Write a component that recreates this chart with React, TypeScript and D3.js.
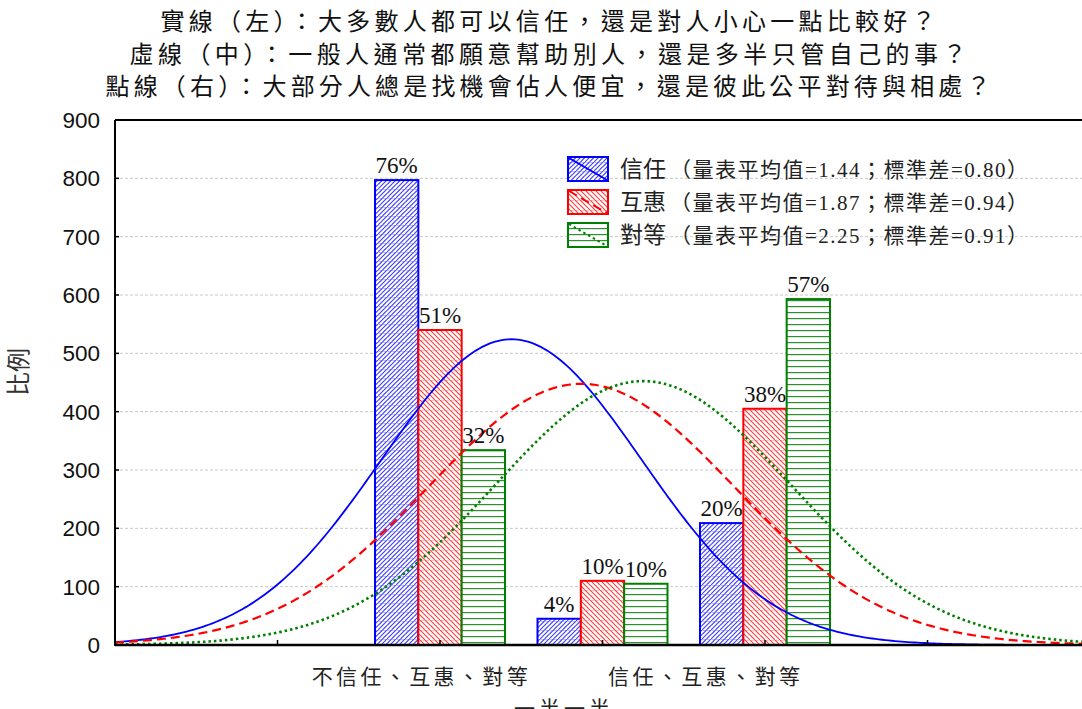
import * as d3 from 'd3';

const W = 1082;
const H = 709;

// categories on the x axis (1..3) and their labels
const categories = [1, 2, 3];
const categoryLabels = ['不信任、互惠、對等', '一半一半', '信任、互惠、對等'];

const seriesNames = ['信任', '互惠', '對等'];
const trustCounts = [797, 45, 209];
const reciprocityCounts = [540, 110, 405];
const fairnessCounts = [334, 105, 593];
const trustPct = ['76%', '4%', '20%'];
const reciprocityPct = ['51%', '10%', '38%'];
const fairnessPct = ['32%', '10%', '57%'];
const means = [1.44, 1.87, 2.25];
const sds = [0.8, 0.94, 0.91];

const yTicks = [0, 100, 200, 300, 400, 500, 600, 700, 800, 900];
const titleLines = [
  '實線（左）：大多數人都可以信任，還是對人小心一點比較好？',
  '虛線（中）：一般人通常都願意幫助別人，還是多半只管自己的事？',
  '點線（右）：大部分人總是找機會佔人便宜，還是彼此公平對待與相處？',
];

const counts = [trustCounts, reciprocityCounts, fairnessCounts];
const pcts = [trustPct, reciprocityPct, fairnessPct];
const colors = ['#0000ff', '#ff0000', '#008000'];
const patterns = ['hatchBlue', 'hatchRed', 'hatchGreen'];
const dashes = [undefined, '9,5', '2.5,3'];

const CJK = "'Noto Sans CJK TC', 'Noto Sans CJK SC', sans-serif";
const SERIF = "'Liberation Serif', 'Noto Sans CJK TC', serif";

export default function App() {
  const left = 115;
  const top = 120;
  const bottom = 645;

  const x = d3.scaleLinear().domain([-1, 5]).range([left, left + 6 * 162.5]);
  const y = d3.scaleLinear().domain([0, 900]).range([bottom, top]);

  const groupW = x(0.8) - x(0);
  const inner = d3.scaleBand<number>().domain([0, 1, 2]).range([-groupW / 2, groupW / 2]);

  // fitted normal curves (count * pdf, bin width 1)
  const grid = d3.range(-1, 5.001, 0.02);
  const line = d3.line<[number, number]>().x(d => x(d[0])).y(d => y(d[1]));
  const curves = means.map((m, i) => {
    const n = d3.sum(counts[i]);
    const s = sds[i];
    return line(grid.map(v => [v, (n / (s * Math.sqrt(2 * Math.PI))) * Math.exp(-0.5 * ((v - m) / s) ** 2)] as [number, number])) || '';
  });

  const legendX = 568;
  const legendY = [157, 190, 223];

  return (
    <svg width={W} height={H} style={{ position: 'absolute', left: 0, top: 0, background: '#fff' }}>
      <defs>
        <pattern id="hatchBlue" patternUnits="userSpaceOnUse" width={9} height={9}>
          <rect width={9} height={9} fill="#fff" />
          <line x1={0} y1={0.5} x2={9} y2={0.5} stroke="#c4c4ff" strokeWidth={1} />
          <path d="M0,4.5L4.5,0M-1,10L10,-1M4.5,9L9,4.5" stroke="#4040ff" strokeWidth={1.1} />
        </pattern>
        <pattern id="hatchRed" patternUnits="userSpaceOnUse" width={10} height={10}>
          <rect width={10} height={10} fill="#fff" />
          <line x1={0} y1={0.5} x2={10} y2={0.5} stroke="#ffc8c8" strokeWidth={1} />
          <path d="M0,5L5,10M-1,-1L11,11M5,0L10,5" stroke="#ff4040" strokeWidth={1.1} />
        </pattern>
        <pattern id="hatchGreen" patternUnits="userSpaceOnUse" width={10} height={6}>
          <rect width={10} height={6} fill="#fff" />
          <line x1={0} y1={0.6} x2={10} y2={0.6} stroke="#2e8f2e" strokeWidth={1.2} />
        </pattern>
        <clipPath id="plotClip">
          <rect x={left} y={top} width={W - left} height={bottom - top + 2} />
        </clipPath>
      </defs>

      {/* title */}
      {titleLines.map((t, i) => (
        <text key={i} x={548} y={30 + i * 32.5} textAnchor="middle" fontFamily={CJK} fontSize={24}
          fill="#111" textLength={[775, 837, 885][i]} lengthAdjust="spacing">{t}</text>
      ))}

      {/* grid */}
      {yTicks.filter(t => t > 0 && t < 900).map(t => (
        <line key={t} x1={left} x2={W} y1={y(t)} y2={y(t)} stroke="#c8c8c8" strokeDasharray="3,2" />
      ))}

      {/* bars */}
      {counts.map((arr, s) => arr.map((v, c) => {
        const bx = x(categories[c]) + (inner(s) as number);
        return (
          <rect key={`${s}-${c}`} x={bx} y={y(v)} width={inner.bandwidth()} height={y(0) - y(v)}
            fill={`url(#${patterns[s]})`} stroke={colors[s]} strokeWidth={2} />
        );
      }))}

      {/* curves */}
      <g clipPath="url(#plotClip)">
        {curves.map((d, i) => (
          <path key={i} d={d} fill="none" stroke={colors[i]} strokeWidth={i === 0 ? 1.8 : i === 1 ? 2.2 : 2.6}
            strokeDasharray={dashes[i]} />
        ))}
      </g>

      {/* bar labels */}
      {counts.map((arr, s) => arr.map((v, c) => (
        <text key={`l${s}-${c}`} x={x(categories[c]) + (inner(s) as number) + inner.bandwidth() / 2} y={y(v) - 7}
          textAnchor="middle" fontFamily={SERIF} fontSize={23} fill="#111">{pcts[s][c]}</text>
      )))}

      {/* axes */}
      <line x1={left} x2={left} y1={top} y2={bottom + 1} stroke="#000" strokeWidth={2} />
      <line x1={left} x2={W} y1={top} y2={top} stroke="#000" strokeWidth={2} />
      <line x1={left} x2={W} y1={bottom} y2={bottom} stroke="#000" strokeWidth={2.5} />
      {yTicks.map(t => (
        <g key={t}>
          <line x1={left} x2={left + 4} y1={y(t)} y2={y(t)} stroke="#000" strokeWidth={1.5} />
          <text x={100} y={y(t)} dy="0.36em" textAnchor="end" fontFamily="'Liberation Sans', Arial, sans-serif"
            fontSize={22.5} fill="#111">{t}</text>
        </g>
      ))}
      {d3.range(0, 5).map(v => (
        <line key={v} x1={x(v)} x2={x(v)} y1={bottom} y2={bottom - 5} stroke="#000" strokeWidth={1.5} />
      ))}

      {/* category labels: the source staggers them left of the group centres */}
      {categories.map((c, i) => (
        <text key={c} x={x(c * 0.875)} y={i === 1 ? 716 : 684} textAnchor="middle" fontFamily={CJK}
          fontSize={21} fill="#222" textLength={i === 1 ? 96 : (i === 0 ? 216 : 192)} lengthAdjust="spacing">
          {categoryLabels[i]}
        </text>
      ))}

      {/* y label */}
      <text transform="translate(27,372) rotate(-90)" textAnchor="middle" fontFamily={CJK} fontSize={24}
        fill="#333">比例</text>

      {/* legend */}
      {seriesNames.map((name, i) => (
        <g key={name}>
          <rect x={legendX} y={legendY[i]} width={40} height={24} fill={`url(#${patterns[i]})`}
            stroke={colors[i]} strokeWidth={2} />
          <line x1={legendX + 1} y1={legendY[i] + 1} x2={legendX + 39} y2={legendY[i] + 23}
            stroke={colors[i]} strokeWidth={2} strokeDasharray={dashes[i]} />
          <text x={620} y={legendY[i] + 20} fontFamily={CJK} fontSize={23} fill="#222">{name}</text>
          <text x={670} y={legendY[i] + 20} fontFamily={SERIF} fontSize={21} fill="#222"
            textLength={358} lengthAdjust="spacing">
            {`（量表平均值=${means[i].toFixed(2)}；標準差=${sds[i].toFixed(2)}）`}
          </text>
        </g>
      ))}
    </svg>
  );
}
